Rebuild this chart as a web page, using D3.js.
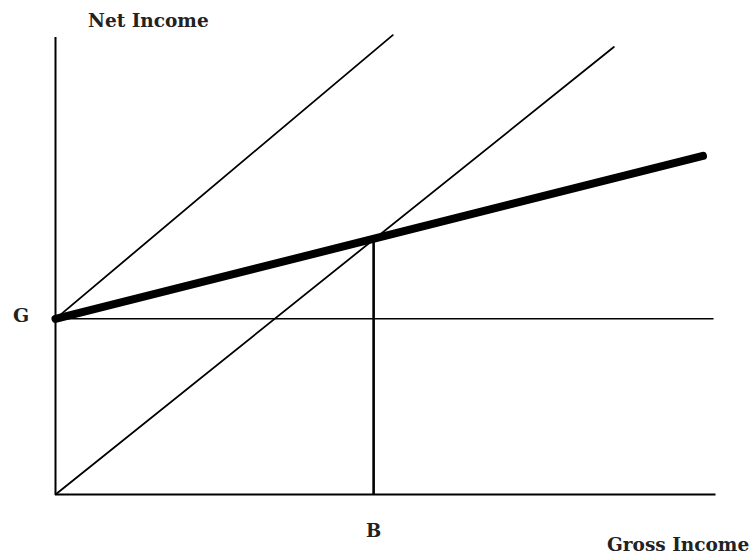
<!DOCTYPE html>
<html>
<head>
<meta charset="utf-8">
<script src="https://cdn.jsdelivr.net/npm/d3@7"></script>
<style>
  body { margin: 0; background: #fff; }
  text { font-family: "DejaVu Serif", serif; font-weight: bold; fill: #222; }
</style>
</head>
<body>
<svg id="chart"></svg>
<script>
// Net vs gross income diagram (abstract units 0..100 on both axes)

const G = 38.4;        // guaranteed income
const B = 48.2;        // break-even gross income

// line endpoints
const noTaxLine = [[0, 0], [84.6, 97.8]];          // net = gross
const shiftedLine = [[0, G], [51.1, 100.4]];       // net = G + gross
const schemeLine = [[0, G], [98.1, 74.0]];         // net = G + (1 - t) gross
const guaranteeLine = [[0, G], [99.7, G]];
const breakEvenLine = [[B, 0], [B, 55.9]];

const xAxisLine = [[0, 0], [100, 0]];
const yAxisLine = [[0, 0], [0, 100]];

const labels = ["Net Income", "Gross Income", "G", "B"];

const width = 752, height = 556;
const svg = d3.select("#chart").attr("width", width).attr("height", height);

const x = d3.scaleLinear().domain([0, 100]).range([55.5, 715.5]);
const y = d3.scaleLinear().domain([0, 100]).range([494.5, 37]);

const line = d3.line().x(d => x(d[0])).y(d => y(d[1]));

function draw(data, w, cap) {
    svg.append("path")
        .attr("d", line(data))
        .attr("fill", "none")
        .attr("stroke", "#000")
        .attr("stroke-width", w)
        .attr("stroke-linecap", cap || "butt");
}

// axes
draw(xAxisLine, 2);
draw(yAxisLine, 2);

// reference lines
draw(guaranteeLine, 1.5);
draw(noTaxLine, 1.8, "round");
draw(shiftedLine, 1.8, "round");
draw(breakEvenLine, 2.6);

// thick scheme line
draw(schemeLine, 8, "round");

// labels
svg.append("text").attr("x", 88).attr("y", 27)
    .attr("font-size", 18.5).text(labels[0]);
svg.append("text").attr("x", 607).attr("y", 551)
    .attr("font-size", 18.5).text(labels[1]);
svg.append("text").attr("x", 21).attr("y", 322)
    .attr("text-anchor", "middle").attr("font-size", 19).text(labels[2]);
svg.append("text").attr("x", x(B)).attr("y", 537)
    .attr("text-anchor", "middle").attr("font-size", 18).text(labels[3]);
</script>
</body>
</html>
